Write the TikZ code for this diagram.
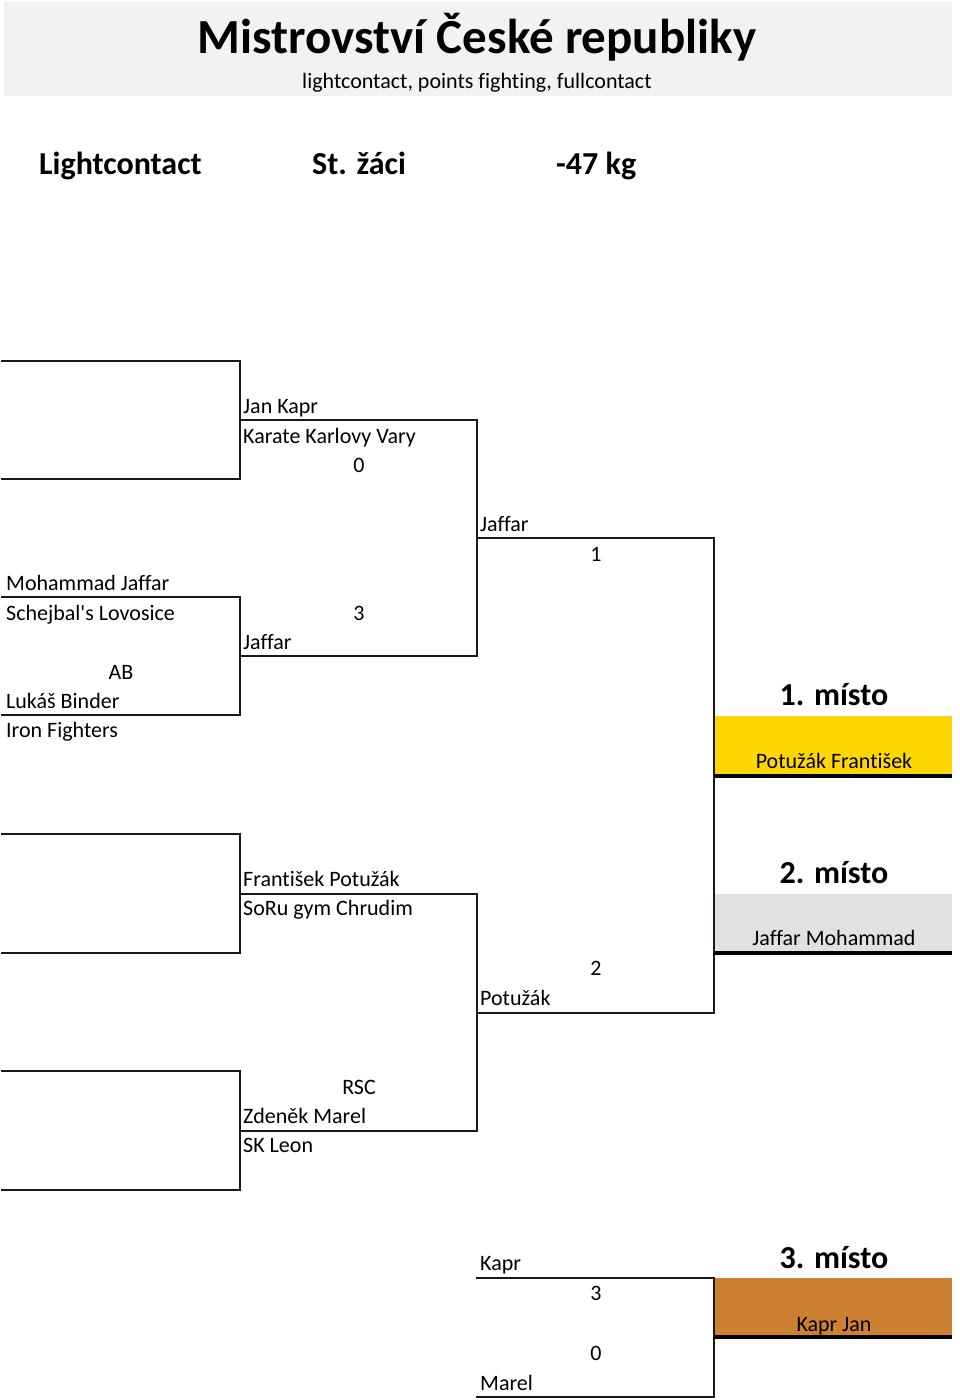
\documentclass[tikz,border=0pt]{standalone}
\usepackage{fontspec}
\newfontfamily\calfont{Carlito}[Ligatures={NoCommon}]
\definecolor{headbg}{HTML}{F2F2F2}
\definecolor{gold}{HTML}{FFD700}
\definecolor{silver}{HTML}{E0E1E3}
\definecolor{bronze}{HTML}{CD7F32}
\tikzset{
  txt/.style={inner sep=0pt, anchor=base west, font=\calfont\fontsize{22}{26}\selectfont},
  ctxt/.style={inner sep=0pt, anchor=base, font=\calfont\fontsize{22}{26}\selectfont},
  hdr/.style={inner sep=0pt, anchor=base west, font=\calfont\bfseries\fontsize{32}{38}\selectfont},
  place/.style={inner sep=0pt, anchor=base, font=\calfont\bfseries\fontsize{32}{38}\selectfont},
  br/.style={line width=2.4pt, line cap=rect, black!90},
  pl/.style={line width=4pt, black},
}
\begin{document}
\begin{tikzpicture}[x=1pt,y=-1pt]
\useasboundingbox (0,0) rectangle (960,1400);
\fill[white] (0,0) rectangle (960,1400);
% header
\fill[headbg] (4,2) rectangle (952,96);
\node[inner sep=0pt, anchor=base, font=\calfont\bfseries\fontsize{49}{56}\selectfont] (title) at (477,53) {Mistrovství České republiky};
\node[ctxt] (sub) at (477,88) {lightcontact, points fighting, fullcontact};
\node[hdr] (disc) at (39,174) {Lightcontact};
\node[hdr] (cat) at (312,174) {St. žáci};
\node[hdr] (wt) at (556,174) {-47 kg};
% place fills
\fill[gold] (715,716) rectangle (952,776);
\fill[silver] (715,894) rectangle (952,953);
\fill[bronze] (715,1278) rectangle (952,1337);
% round 1 brackets
\draw[br] (2,361) -- (240,361) -- (240,479) -- (2,479);
\draw[br] (2,597) -- (240,597) -- (240,715) -- (2,715);
\draw[br] (2,834) -- (240,834) -- (240,953) -- (2,953);
\draw[br] (2,1071) -- (240,1071) -- (240,1190) -- (2,1190);
% round 2 (semifinal) brackets
\draw[br] (240,420) -- (477,420) -- (477,656) -- (240,656);
\draw[br] (240,894) -- (477,894) -- (477,1131) -- (240,1131);
% final bracket
\draw[br] (477,538) -- (714,538) -- (714,1013) -- (477,1013);
% third place bracket
\draw[br] (477,1278) -- (714,1278) -- (714,1397) -- (477,1397);
% place lines
\draw[pl] (714,776) -- (952,776);
\draw[pl] (714,953) -- (952,953);
\draw[pl] (714,1337) -- (952,1337);
% texts round 1
\node[txt] (m1) at (6,590) {Mohammad Jaffar};
\node[txt] (c1) at (6,620) {Schejbal\char39 s Lovosice};
\node[ctxt] (s1) at (121,679) {AB};
\node[txt] (m2) at (6,708) {Lukáš Binder};
\node[txt] (c2) at (6,737) {Iron Fighters};
% round 2 texts
\node[txt] (k1) at (243,413) {Jan Kapr};
\node[txt] (k2) at (243,443) {Karate Karlovy Vary};
\node[ctxt] (k3) at (359,472) {0};
\node[ctxt] (j3) at (359,620) {3};
\node[txt] (j1) at (243,649) {Jaffar};
\node[txt] (p1) at (243,886) {František Potužák};
\node[txt] (p2) at (243,915) {SoRu gym Chrudim};
\node[ctxt] (r1) at (359,1094) {RSC};
\node[txt] (z1) at (243,1123) {Zdeněk Marel};
\node[txt] (z2) at (243,1152) {SK Leon};
% final texts
\node[txt] (f1) at (480,531) {Jaffar};
\node[ctxt] (f2) at (596,561) {1};
\node[ctxt] (f3) at (596,975) {2};
\node[txt] (f4) at (480,1005) {Potužák};
% third place texts
\node[txt] (t1) at (480,1270) {Kapr};
\node[ctxt] (t2) at (596,1300) {3};
\node[ctxt] (t3) at (596,1360) {0};
\node[txt] (t4) at (480,1390) {Marel};
% places
\node[place] (pl1) at (834,705) {1. místo};
\node[ctxt] (n1) at (834,768) {Potužák František};
\node[place] (pl2) at (834,883) {2. místo};
\node[ctxt] (n2) at (834,945) {Jaffar Mohammad};
\node[place] (pl3) at (834,1268) {3. místo};
\node[ctxt] (n3) at (834,1331) {Kapr Jan};
\end{tikzpicture}
\end{document}
